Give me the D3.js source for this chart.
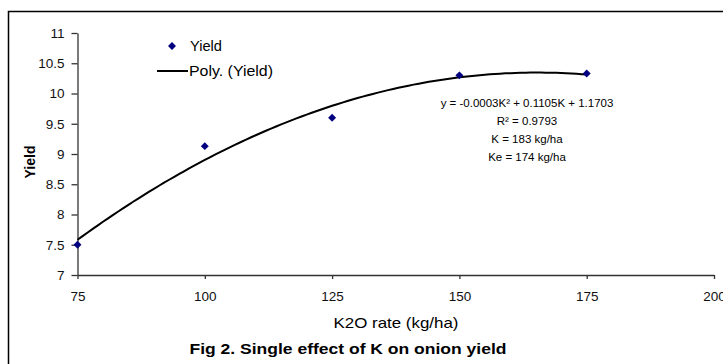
<!DOCTYPE html>
<html>
<head>
<meta charset="utf-8">
<script src="https://cdn.jsdelivr.net/npm/d3@7"></script>
<style>
  body { margin: 0; background: #fff; }
  svg { display: block; font-family: "Liberation Sans", Arial, sans-serif; }
</style>
</head>
<body>
<script>
// 数据
var rates = [75, 100, 125, 150, 175];
var yields = [7.5, 9.13, 9.6, 10.3, 10.33];
var xTicks = [75, 100, 125, 150, 175, 200];
var yTicks = [7, 7.5, 8, 8.5, 9, 9.5, 10, 10.5, 11];
var eqLines = ["y = -0.0003K\u00b2 + 0.1105K + 1.1703", "R\u00b2 = 0.9793", "K = 183 kg/ha", "Ke = 174 kg/ha"];

var w = 723, h = 364;

var svg = d3.select("body").append("svg").attr("width", w).attr("height", h);

// 外框
svg.append("rect")
  .attr("x", 8.5).attr("y", 11.5)
  .attr("width", 800).attr("height", 400)
  .attr("fill", "none").attr("stroke", "#000").attr("stroke-width", 1.5);

var xScale = d3.scaleLinear().domain([75, 200]).range([77.5, 714]);
var yScale = d3.scaleLinear().domain([7, 11]).range([275, 33]);

// X 轴
var xAxis = d3.axisBottom(xScale).tickValues(xTicks).tickSize(4).tickSizeOuter(0).tickPadding(12);
var gx = svg.append("g").attr("transform", "translate(0,275)").call(xAxis);
// Y 轴
var yAxis = d3.axisLeft(yScale).tickValues(yTicks).tickSize(6).tickSizeOuter(0).tickPadding(7)
  .tickFormat(d3.format("~g"));
var gy = svg.append("g").attr("transform", "translate(77.5,0)").call(yAxis);

[gx, gy].forEach(function (g) {
  g.select(".domain").attr("stroke", "#333").attr("stroke-width", 1.3);
  g.selectAll(".tick line").attr("stroke", "#333").attr("stroke-width", 1.3);
  g.selectAll(".tick text").attr("font-size", 13.5).attr("fill", "#111")
    .attr("font-family", "Liberation Sans, Arial, sans-serif");
});

// 二次多项式最小二乘拟合（与 Excel 趋势线相同）
function polyFit(xs, ys) {
  var n = xs.length, S = [0, 0, 0, 0, 0], T = [0, 0, 0];
  for (var i = 0; i < n; i++) {
    var p = 1;
    for (var k = 0; k < 5; k++) { S[k] += p; if (k < 3) T[k] += p * ys[i]; p *= xs[i]; }
  }
  var A = [[S[0], S[1], S[2], T[0]], [S[1], S[2], S[3], T[1]], [S[2], S[3], S[4], T[2]]];
  for (var c = 0; c < 3; c++) {
    for (var r = c + 1; r < 3; r++) {
      var f = A[r][c] / A[c][c];
      for (var j = c; j < 4; j++) A[r][j] -= f * A[c][j];
    }
  }
  var coef = [0, 0, 0];
  for (var r2 = 2; r2 >= 0; r2--) {
    var s = A[r2][3];
    for (var j2 = r2 + 1; j2 < 3; j2++) s -= A[r2][j2] * coef[j2];
    coef[r2] = s / A[r2][r2];
  }
  return coef;
}
var coef = polyFit(rates, yields);
var fitPts = d3.range(75, 175.5, 1).map(function (k) {
  return [k, coef[0] + coef[1] * k + coef[2] * k * k];
});

var line = d3.line()
  .x(function (d) { return xScale(d[0]); })
  .y(function (d) { return yScale(d[1]); });

svg.append("path")
  .datum(fitPts)
  .attr("d", line)
  .attr("fill", "none")
  .attr("stroke", "#000")
  .attr("stroke-width", 2);

// 数据点（菱形）
var diamond = d3.symbol().type(d3.symbolDiamond2).size(40);
svg.selectAll(".pt")
  .data(rates)
  .enter()
  .append("path")
  .attr("class", "pt")
  .attr("d", diamond)
  .attr("fill", "#000080")
  .attr("transform", function (d, i) {
    return "translate(" + xScale(d) + "," + yScale(yields[i]) + ")";
  });

// 图例
svg.append("path").attr("d", diamond).attr("fill", "#000080")
  .attr("transform", "translate(172,46)");
svg.append("text").attr("x", 190).attr("y", 51).attr("font-size", 14)
  .attr("textLength", 32).attr("lengthAdjust", "spacingAndGlyphs").text("Yield");
svg.append("line").attr("x1", 157).attr("x2", 188).attr("y1", 71).attr("y2", 71)
  .attr("stroke", "#000").attr("stroke-width", 2);
svg.append("text").attr("x", 189).attr("y", 76).attr("font-size", 14)
  .attr("textLength", 84).attr("lengthAdjust", "spacingAndGlyphs").text("Poly. (Yield)");

// 方程文字
svg.selectAll(".eq")
  .data(eqLines)
  .enter()
  .append("text")
  .attr("class", "eq")
  .attr("x", 527)
  .attr("y", function (d, i) { return 107 + i * 18; })
  .attr("text-anchor", "middle")
  .attr("font-size", 11.5)
  .text(function (d) { return d; });

// 坐标轴标题
svg.append("text")
  .attr("transform", "translate(35,162) rotate(-90)")
  .attr("text-anchor", "middle")
  .attr("font-size", 14).attr("font-weight", "bold")
  .text("Yield");
svg.append("text")
  .attr("x", 396).attr("y", 328)
  .attr("text-anchor", "middle").attr("font-size", 15)
  .attr("textLength", 125).attr("lengthAdjust", "spacingAndGlyphs")
  .text("K2O rate (kg/ha)");
svg.append("text")
  .attr("x", 348).attr("y", 354)
  .attr("text-anchor", "middle").attr("font-size", 15).attr("font-weight", "bold")
  .attr("textLength", 317).attr("lengthAdjust", "spacingAndGlyphs")
  .text("Fig 2. Single effect of K on onion yield");
</script>
</body>
</html>
